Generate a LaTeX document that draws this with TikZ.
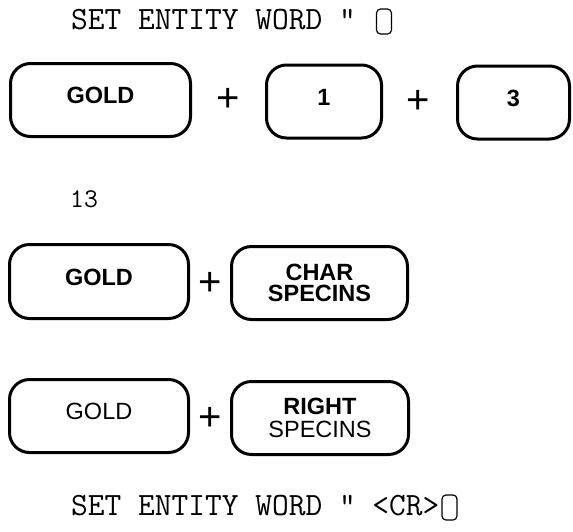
\documentclass[tikz,border=0pt]{standalone}
\usepackage{fontspec}
\setmainfont{Liberation Sans}
\newfontfamily\monof{Latin Modern Mono}
\newfontfamily\sansf{Liberation Sans}
\begin{document}
\begin{tikzpicture}[x=1pt,y=-1pt,
  keybox/.style={draw, line width=3pt, rounded corners=20pt, inner sep=0pt,
    align=center, font=\sansf\fontsize{23.5}{22.5}\selectfont},
  onekey/.style={keybox, text height=17pt, text depth=10pt},
  plussign/.style={inner sep=0pt, text height=27pt, text depth=0pt,
    font=\sansf\fontsize{40}{40}\selectfont},
  screen/.style={inner sep=0pt, anchor=base west, font=\monof\fontsize{32.5}{32.5}\selectfont},
  cursorbox/.style={draw, line width=1.2pt, rounded corners=4pt, inner sep=0pt,
    minimum width=15pt, minimum height=25pt}]
\useasboundingbox (0,0) rectangle (573,531);
% top command line
\node[screen] (top) at (71,29) {SET ENTITY WORD "};
\node[cursorbox] (cur1) at (384,21.5) {};
% row 1
\node[onekey, minimum width=180pt, minimum height=73pt] (g1) at (100.5,100) {\bfseries GOLD};
\node[plussign] (p1) at (228,98) {+};
\node[onekey, minimum width=115pt, minimum height=73pt] (k1) at (324,101.5) {\bfseries 1};
\node[plussign] (p2) at (418,100) {+};
\node[onekey, minimum width=112pt, minimum height=73pt] (k3) at (513.5,102.5) {\bfseries 3};
% 13
\node[screen, font=\monof\fontsize{27}{27}\selectfont] (num) at (70,207) {13};
% row 2
\node[onekey, minimum width=179pt, minimum height=74pt] (g2) at (99,281.5) {\bfseries GOLD};
\node[plussign] (p3) at (210,282) {+};
\node[keybox, minimum width=176pt, minimum height=73pt] (char) at (319.5,283) {\bfseries CHAR\\[-1pt]\bfseries SPECINS};
% row 3
\node[onekey, minimum width=179pt, minimum height=73pt] (g3) at (99,416) {GOLD};
\node[plussign] (p4) at (210,417) {+};
\node[keybox, minimum width=177pt, minimum height=73pt] (right) at (320,418) {\bfseries RIGHT\\[0pt]SPECINS};
% bottom command line
\node[screen] (bot) at (71,515) {SET ENTITY WORD " <CR>};
\node[cursorbox] (cur2) at (449.5,507.5) {};
\end{tikzpicture}
\end{document}
